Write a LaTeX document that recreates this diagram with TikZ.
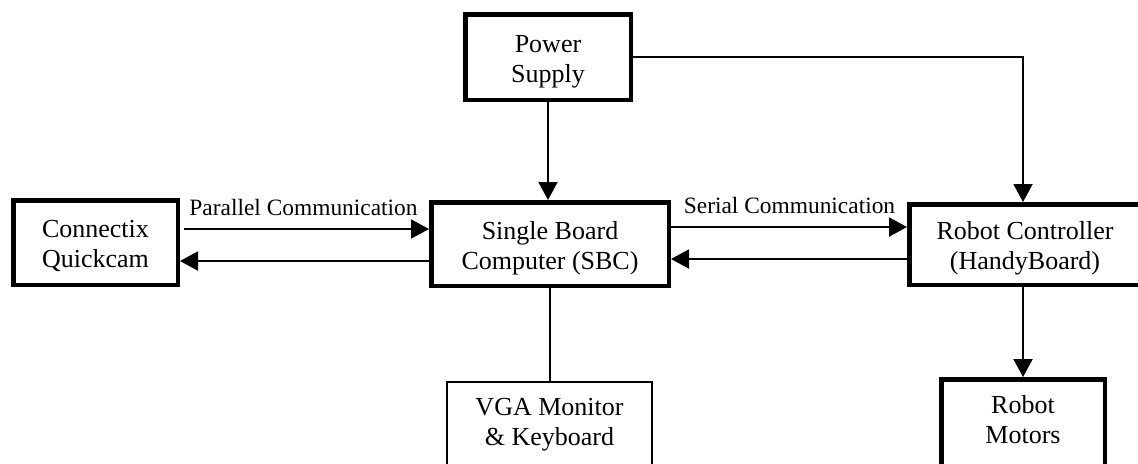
\documentclass[tikz,border=0pt]{standalone}
\usepackage{fontspec}
\setmainfont{Liberation Serif}
\usetikzlibrary{arrows.meta,calc}

\tikzset{
  block/.style={draw, line width=2.25pt, align=center, inner sep=0pt,
    font=\fontsize{13}{15.2}\selectfont, text height=26pt, text depth=0.6pt},
  plainblock/.style={block, line width=1pt},
  link/.style={line width=1pt},
  arr/.style={link, -{Triangle[length=9pt,width=9.5pt]}},
  lbl/.style={font=\fontsize{11.7}{14}\selectfont, inner sep=0pt}
}

\begin{document}
\begin{tikzpicture}[x=0.5pt,y=-0.5pt]
  \useasboundingbox (0,0) rectangle (1138,463);
  \clip (0,0) rectangle (1138,463);

  % blocks
  \node[block, minimum width=82.75pt, minimum height=42.75pt] (ps) at (548,57) {Power\\Supply};
  \node[block, minimum width=82.25pt, minimum height=42.25pt] (cam) at (95.5,242.5) {Connectix\\Quickcam};
  \node[block, minimum width=118.75pt, minimum height=41.75pt] (sbc) at (550,244) {Single Board\\Computer (SBC)};
  \node[block, minimum width=119.25pt, minimum height=40.25pt] (rc) at (1028.5,244.5)
    {\hspace*{-3.5pt}Robot Controller\\\hspace*{-3.5pt}(HandyBoard)};
  \node[block, minimum width=81.75pt, minimum height=43.25pt, text depth=5.1pt] (mot) at (1023,422.5) {Robot\\Motors};
  \node[plainblock, minimum width=102.5pt, minimum height=42pt, text depth=4.6pt] (vga) at (549.5,424) {VGA Monitor\\\& Keyboard};

  % power distribution
  \draw[arr] (ps.south) -- (ps.south |- sbc.north);
  \draw[arr] (ps.east) -| (mot.north |- rc.north);

  % camera link
  \draw[arr] ($(cam.east |- sbc.west)+(4,-15)$) -- ($(sbc.west)+(0,-15)$);
  \draw[arr] ($(sbc.west)+(0,17)$) -- ($(cam.east |- sbc.west)+(0,17)$);
  \node[lbl, anchor=base] (plab) at (303.5,215) {Parallel Communication};

  % controller link
  \draw[arr] ($(sbc.east)+(0,-17)$) -- ($(rc.west |- sbc.east)+(0,-17)$);
  \draw[arr] ($(rc.west |- sbc.east)+(0,15)$) -- ($(sbc.east)+(0,15)$);
  \node[lbl, anchor=base] (slab) at (789.5,213) {Serial Communication};

  % monitor and motors
  \draw[link] (sbc.south) -- (sbc.south |- vga.north);
  \draw[arr] (mot.north |- rc.south) -- (mot.north);
\end{tikzpicture}
\end{document}
